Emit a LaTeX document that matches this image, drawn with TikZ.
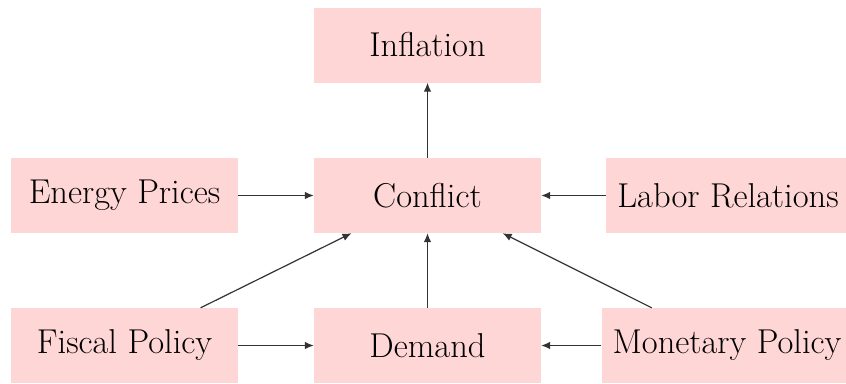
\documentclass[tikz,border=0pt]{standalone}
\usepackage{fontspec}
\usetikzlibrary{arrows.meta}
\begin{document}
\begin{tikzpicture}[x=1pt,y=-1pt,
  box/.style={fill=red!16, draw=none, minimum width=227pt, minimum height=75pt,
    inner xsep=11pt, font=\fontsize{34.5}{40}\selectfont},
  arr/.style={-{Latex[length=9pt,width=7.5pt]}, line width=1.2pt, draw=black!80}]
\useasboundingbox (0,0) rectangle (846,383);
\node[box] (inf) at (427.5,45) {Inflation};
\node[box] (con) at (427.5,195.5) {Conflict};
\node[box] (ene) at (124.5,195.5) {Energy Prices};
\node[box] (lab) at (728,195.5) {Labor Relations};
\node[box] (fis) at (124.5,345.5) {Fiscal Policy};
\node[box] (dem) at (427.5,345.5) {Demand};
\node[box] (mon) at (727,345.5) {Monetary Policy};
\draw[arr] (con) -- (inf);
\draw[arr] (ene) -- (con);
\draw[arr] (lab) -- (con);
\draw[arr] (fis) -- (con);
\draw[arr] (dem) -- (con);
\draw[arr] (mon) -- (con);
\draw[arr] (fis) -- (dem);
\draw[arr] (mon) -- (dem);
\end{tikzpicture}
\end{document}
